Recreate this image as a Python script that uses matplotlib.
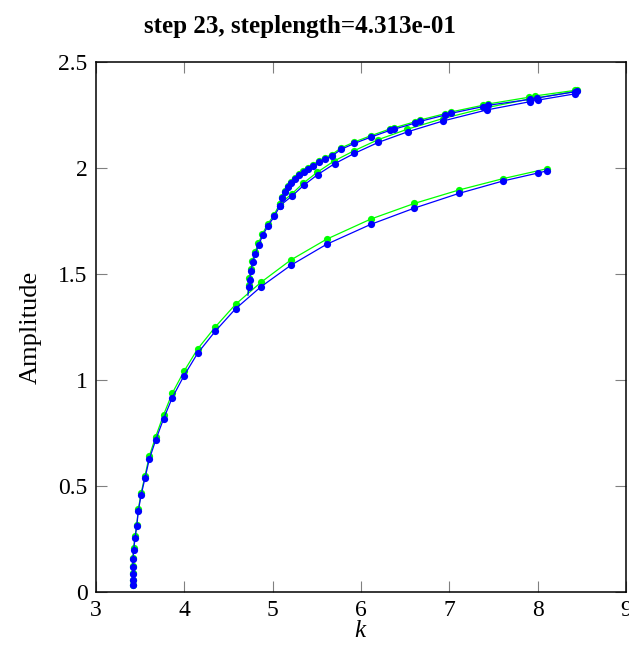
import numpy as np
import matplotlib
matplotlib.use('Agg')
import matplotlib.pyplot as plt

plt.rcParams['font.family'] = ['Liberation Serif', 'DejaVu Serif']
plt.rcParams['mathtext.fontset'] = 'custom'
plt.rcParams['mathtext.it'] = 'Liberation Serif:italic'

# ---- data ----
# blue = current step, green = previous step
# trunk + lower branch
k_low_b = [3.415, 3.415, 3.416, 3.418, 3.419, 3.426, 3.442, 3.461, 3.479, 3.51, 3.555,
           3.603, 3.676, 3.765, 3.864, 3.996, 4.15, 4.35, 4.58,
           4.865, 5.205, 5.61, 6.11, 6.605, 7.107, 7.61, 8.0, 8.11]
a_low_b = [0.033, 0.055, 0.085, 0.118, 0.156, 0.20, 0.254, 0.31, 0.382, 0.456, 0.538,
           0.626, 0.717, 0.817, 0.917, 1.02, 1.126, 1.23, 1.336,
           1.439, 1.541, 1.64, 1.734, 1.811, 1.88, 1.939, 1.976, 1.987]
k_low_g = [3.415, 3.415, 3.416, 3.418, 3.419, 3.426, 3.442, 3.461, 3.479, 3.51, 3.555,
           3.603, 3.676, 3.765, 3.864, 3.996, 4.15, 4.35, 4.58,
           4.865, 5.205, 5.61, 6.11, 6.605, 7.107, 7.61, 8.11]
a_low_g = [0.035, 0.058, 0.089, 0.123, 0.162, 0.207, 0.262, 0.318, 0.39, 0.465, 0.549,
           0.64, 0.733, 0.836, 0.938, 1.041, 1.146, 1.25, 1.357,
           1.46, 1.566, 1.664, 1.759, 1.833, 1.896, 1.95, 1.997]

# steep branch -> upper branch -> back along the middle branch
k_up_b = [4.72, 4.733, 4.738, 4.755, 4.775, 4.804, 4.843, 4.888, 4.948, 5.019, 5.084,
          5.11, 5.14, 5.174, 5.208, 5.254, 5.30, 5.35, 5.40, 5.457, 5.525, 5.593,
          5.673, 5.775, 5.925, 6.114, 6.33, 6.375, 6.613, 6.67, 6.952, 7.02, 7.386,
          7.443, 7.915, 7.99, 8.425, 8.45,
          8.425, 8.0, 7.915, 7.425, 6.93, 6.53, 6.197, 5.925, 5.70, 5.51, 5.35,
          5.22, 5.084]
a_up_b = [1.40, 1.439, 1.474, 1.514, 1.556, 1.596, 1.638, 1.683, 1.728, 1.772, 1.823,
          1.858, 1.887, 1.910, 1.929, 1.948, 1.965, 1.981, 1.995, 2.009, 2.026, 2.042,
          2.057, 2.088, 2.116, 2.146, 2.178, 2.183, 2.212, 2.22, 2.25, 2.258, 2.29,
          2.296, 2.324, 2.33, 2.36, 2.363,
          2.35, 2.32, 2.313, 2.274, 2.222, 2.171, 2.121, 2.069, 2.02, 1.969, 1.918,
          1.868, 1.823]
k_up_g = [4.72, 4.729, 4.735, 4.751, 4.771, 4.80, 4.839, 4.884, 4.944, 5.015, 5.08,
          5.106, 5.136, 5.17, 5.204, 5.25, 5.296, 5.346, 5.396, 5.453, 5.521, 5.589,
          5.669, 5.771, 5.92, 6.11, 6.326, 6.37, 6.61, 6.665, 6.948, 7.015, 7.38,
          7.438, 7.905, 7.97, 8.42, 8.445,
          8.42, 7.9, 7.415, 6.925, 6.525, 6.19, 5.92, 5.695, 5.505, 5.345,
          5.215, 5.08]
a_up_g = [1.41, 1.447, 1.482, 1.522, 1.563, 1.603, 1.645, 1.69, 1.735, 1.779, 1.83,
          1.864, 1.893, 1.916, 1.935, 1.954, 1.971, 1.987, 2.001, 2.015, 2.032, 2.048,
          2.063, 2.094, 2.122, 2.152, 2.184, 2.189, 2.218, 2.226, 2.256, 2.264, 2.296,
          2.302, 2.334, 2.34, 2.366, 2.369,
          2.36, 2.325, 2.284, 2.233, 2.183, 2.133, 2.081, 2.033, 1.98, 1.928,
          1.877, 1.83]

x_ticks = [3, 4, 5, 6, 7, 8, 9]
y_ticks = [0, 0.5, 1, 1.5, 2, 2.5]
y_tick_labels = ['0', '0.5', '1', '1.5', '2', '2.5']
title = 'step 23, steplength=4.313e-01'

fig = plt.figure(figsize=(6.29, 6.59), dpi=100)
ax = fig.add_axes([96 / 629, 67 / 659, 530 / 629, 530 / 659])

green = '#00ff00'
blue = '#0000ff'
ms = 5.2
lw = 0.9
# previous step first, current on top
ax.plot(k_low_g, a_low_g, '-o', color=green, ms=ms, lw=lw, mew=0)
ax.plot(k_up_g, a_up_g, '-o', color=green, ms=ms, lw=lw, mew=0, markevery=list(range(1, len(k_up_g))))
ax.plot(k_low_b, a_low_b, '-o', color=blue, ms=ms, lw=lw, mew=0)
ax.plot(k_up_b, a_up_b, '-o', color=blue, ms=ms, lw=lw, mew=0, markevery=list(range(1, len(k_up_b))))

ax.set_xlim(3, 9)
ax.set_ylim(0, 2.5)
ax.set_xticks(x_ticks)
ax.set_yticks(y_ticks)
ax.set_yticklabels(y_tick_labels)
ax.tick_params(direction='in', length=8, width=0.8, color='0.5', labelsize=17,
               top=True, right=True, pad=6)
for s in ax.spines.values():
    s.set_linewidth(1.1)
    s.set_color('black')

ax.set_xlabel('$k$', fontsize=18, labelpad=-1)
ax.set_ylabel('Amplitude', fontsize=19, labelpad=12)
ax.set_title(title, fontsize=18, fontweight='bold', pad=21, x=0.385)

fig.savefig('out.png', dpi=100)
